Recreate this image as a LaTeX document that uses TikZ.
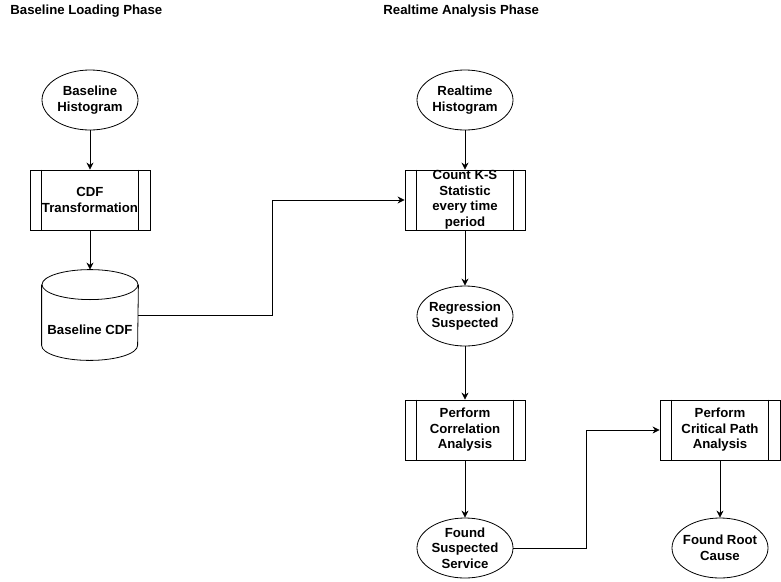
\documentclass[tikz,border=0pt]{standalone}
\usepackage{fontspec}
\setmainfont{Liberation Sans}
\usetikzlibrary{positioning,shapes.geometric,arrows.meta}

\tikzset{
  every node/.style = {font=\fontsize{13.2}{15.5}\selectfont\bfseries, align=center},
  io/.style = {draw, ellipse, minimum width=96pt, minimum height=60pt, inner sep=-8pt},
  proc/.style = {draw, rectangle, minimum width=120pt, minimum height=60pt, inner sep=0pt},
  store/.style = {minimum width=96pt, minimum height=90pt, inner sep=0pt},
  flow/.style = {-{Stealth[length=7pt,width=7pt]}},
}

\begin{document}
\begin{tikzpicture}[x=1pt, y=-1pt, line width=0.8pt]
 \fill[white] (0,0) rectangle (781,581);
 \useasboundingbox (0,0) rectangle (781,581);

 % phase titles
 \node[anchor=west, inner sep=0pt] (t1) at (10,11) {Baseline Loading Phase};
 \node[anchor=west, inner sep=0pt] (t2) at (383,11) {Realtime Analysis Phase};

 % baseline loading
 \node[io] (bhist) at (90,100) {Baseline\\Histogram};
 \node[proc] (cdf) at (90,200) {CDF\\Transformation};
 \node[store] (bcdf) at (90,315) {};
 \node (bcdftxt) at (90,330) {Baseline CDF};
 % the cylinder
 \draw ([yshift=-15pt]bcdf.north west) -- ([yshift=15pt]bcdf.south west)
   arc[start angle=180, end angle=360, x radius=48pt, y radius=15pt]
   -- ([yshift=-15pt]bcdf.north east);
 \draw ([yshift=-15pt]bcdf.north) ellipse[x radius=48pt, y radius=15pt];

 % realtime analysis
 \node[io] (rhist) at (465,100) {Realtime\\Histogram};
 \node[proc] (ks) at (465,200) {Count K-S\\Statistic\\every time\\period};
 \node[io] (reg) at (465,316) {Regression\\Suspected};
 \node[proc] (corr) at (465,430) {Perform\\Correlation\\Analysis};
 \node[io] (fss) at (465,548) {Found\\Suspected\\Service};
 \node[proc] (cpa) at (720,430) {Perform\\Critical Path\\Analysis};
 \node[io] (root) at (720,548) {Found Root\\Cause};

 % side bars of the process boxes
 \foreach \n in {cdf,ks,corr,cpa}
  \draw ([xshift=12pt]\n.north west) -- ([xshift=12pt]\n.south west)
        ([xshift=-12pt]\n.north east) -- ([xshift=-12pt]\n.south east);

 \coordinate (m1) at (272,315);
 \coordinate (m2) at (586,548);

 \draw[flow] (bhist) -- (cdf);
 \draw[flow] (cdf) -- (bcdf);
 \draw[flow] (bcdf.east) -- (m1) |- (ks.west);
 \draw[flow] (rhist) -- (ks);
 \draw[flow] (ks) -- (reg);
 \draw[flow] (reg) -- (corr);
 \draw[flow] (corr) -- (fss);
 \draw[flow] (fss.east) -- (m2) |- (cpa.west);
 \draw[flow] (cpa) -- (root);

\end{tikzpicture}
\end{document}
